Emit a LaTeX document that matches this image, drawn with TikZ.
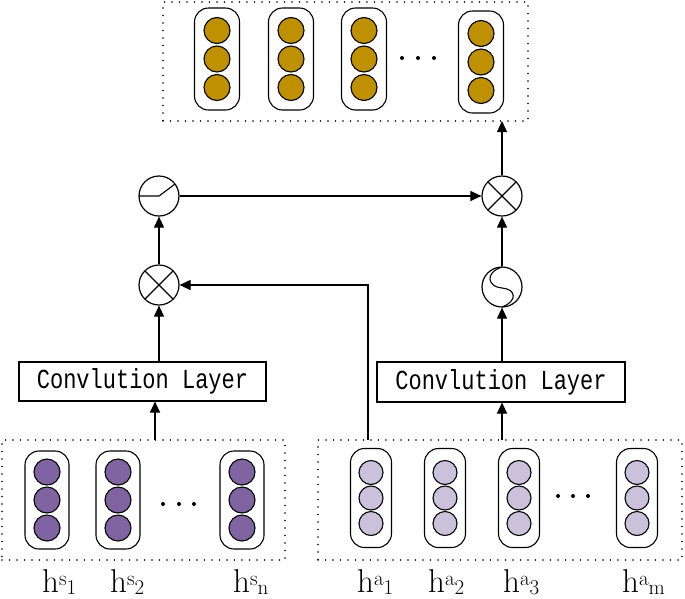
\documentclass[tikz,border=0pt]{standalone}
\usepackage{fontspec}
\usepackage{graphicx}
\setmonofont{Liberation Mono}
\usetikzlibrary{arrows.meta}
\definecolor{gold}{HTML}{BF9000}
\definecolor{purp}{HTML}{8064A2}
\definecolor{lav}{HTML}{CCC1DA}
\tikzset{
  capsulebox/.style={draw, line width=1.1pt, rounded corners=14pt, inner sep=0pt},
  unitc/.style={circle, draw, line width=1.1pt, inner sep=0pt},
  opnode/.style={circle, draw, line width=1.2pt, minimum size=40pt, inner sep=0pt},
  convbox/.style={draw, line width=1.1pt, inner sep=0pt, font=\ttfamily\fontsize{22}{24}\selectfont},
  groupbox/.style={draw, line width=1.8pt, line cap=round, dash pattern=on 0pt off 7.5pt},
  conn/.style={line width=1.1pt},
  arr/.style={line width=1.1pt, -{Triangle[length=11pt,width=10pt]}},
  lab/.style={anchor=base west, inner sep=0pt, font=\fontsize{33}{36}\selectfont},
  dotc/.style={circle, fill=black, inner sep=0pt, minimum size=4pt}
}
% name, x, y, w, h, diameter, spacing, color
\newcommand{\capsule}[8]{%
  \node[capsulebox, minimum width=#4, minimum height=#5] (#1) at (#2,#3) {};
  \foreach \k/\o in {a/-1,b/0,c/1}
    \node[unitc, fill=#8, minimum size=#6] (#1\k) at ({#2},{#3+(\o)*#7}) {};
}
\newcommand{\hlab}[2]{\smash{h\raisebox{7pt}{\fontsize{21}{21}\selectfont #1}\raisebox{-2.5pt}{\fontsize{21}{21}\selectfont #2}}}
\newcommand{\convtext}{\scalebox{1}[1.25]{Convlution Layer}}
\begin{document}
\begin{tikzpicture}[x=1pt,y=-1pt]
\useasboundingbox (0,0) rectangle (685,598);
% group boxes
\node[groupbox, minimum width=365, minimum height=119, inner sep=0pt] (topbox) at (345.5,61.5) {};
\node[groupbox, minimum width=283, minimum height=120, inner sep=0pt] (botL) at (143.5,500) {};
\node[groupbox, minimum width=364, minimum height=120, inner sep=0pt] (botR) at (500,500) {};
% top capsules
\capsule{t1}{217}{59}{45}{102}{26}{28.5}{gold}
\capsule{t2}{291}{59}{45}{102}{26}{28.5}{gold}
\capsule{t3}{364}{59}{45}{102}{26}{28.5}{gold}
\capsule{t4}{481}{62}{45}{102}{26}{28.5}{gold}
\node[dotc] (td1) at (402,58) {};
\node[dotc] (td2) at (418,58) {};
\node[dotc] (td3) at (434,58) {};
% bottom left capsules
\capsule{s1}{47}{500}{44}{98}{26}{28}{purp}
\capsule{s2}{118}{500}{44}{98}{26}{28}{purp}
\capsule{s3}{242}{500}{44}{98}{26}{28}{purp}
\node[dotc] (sd1) at (163,504) {};
\node[dotc] (sd2) at (179,504) {};
\node[dotc] (sd3) at (194,504) {};
% bottom right capsules
\capsule{a1}{371}{498}{41}{99}{24}{25.5}{lav}
\capsule{a2}{445}{498}{41}{99}{24}{25.5}{lav}
\capsule{a3}{519}{498}{41}{99}{24}{25.5}{lav}
\capsule{a4}{637}{498}{41}{99}{24}{25.5}{lav}
\node[dotc] (ad1) at (558,496) {};
\node[dotc] (ad2) at (573,496) {};
\node[dotc] (ad3) at (588,496) {};
% labels
\node[lab] (ls1) at (42,592) {\hlab{s}{1}};
\node[lab] (ls2) at (110,592) {\hlab{s}{2}};
\node[lab] (ls3) at (233,592) {\hlab{s}{n}};
\node[lab] (la1) at (357,592) {\hlab{a}{1}};
\node[lab] (la2) at (428,592) {\hlab{a}{2}};
\node[lab] (la3) at (503,592) {\hlab{a}{3}};
\node[lab] (la4) at (622,592) {\hlab{a}{m}};
% conv layers
\node[convbox, minimum width=247, minimum height=39] (convL) at (142.5,381.5) {\convtext};
\node[convbox, minimum width=248, minimum height=40] (convR) at (501,382) {\convtext};
% operators
\node[opnode] (mul1) at (159,285) {};
\node[opnode] (relu) at (159,196) {};
\node[opnode] (sig) at (502,287) {};
\node[opnode] (mul2) at (502,196) {};
\draw[conn, shift={(mul1.center)}] (-14.1,-14.1) -- (14.1,14.1) (-14.1,14.1) -- (14.1,-14.1);
\draw[conn, shift={(mul2.center)}] (-14.1,-14.1) -- (14.1,14.1) (-14.1,14.1) -- (14.1,-14.1);
\draw[conn, shift={(relu.center)}] (-20,0) -- (0,0) -- (16,-12);
\draw[conn, shift={(sig.center)}] (0,-20) .. controls (-18,-14) and (-14,0) .. (0,1) .. controls (14,2) and (16,14) .. (0,20);
% connectors
\coordinate (bLtop) at (155,440);
\coordinate (bRtop) at (502,440);
\coordinate (bRa) at (368,440);
\coordinate (corner) at (368,285);
\coordinate (topin) at (502,121);
\draw[arr] (bLtop) -- (bLtop |- convL.south);
\draw[arr] (convL.north -| mul1) -- (mul1.south);
\draw[arr] (mul1.north) -- (relu.south);
\draw[arr] (relu.east) -- (mul2.west);
\draw[arr] (bRtop) -- (bRtop |- convR.south);
\draw[arr] (convR.north -| sig) -- (sig.south);
\draw[arr] (sig.north) -- (mul2.south);
\draw[arr] (mul2.north) -- (topin);
\draw[arr] (bRa) -- (corner) -- (mul1.east);
\end{tikzpicture}
\end{document}
